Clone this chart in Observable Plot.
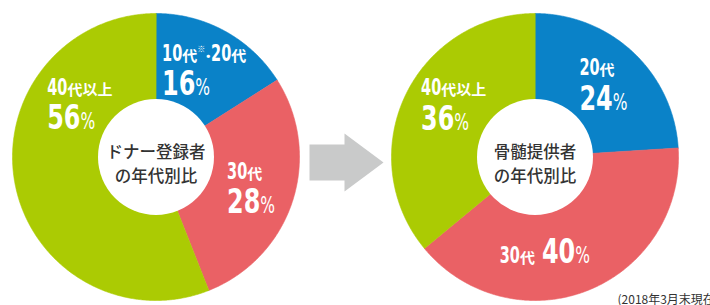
<!DOCTYPE html>
<html><head><meta charset="utf-8">
<script src="https://cdn.jsdelivr.net/npm/d3@7"></script>
<script src="https://cdn.jsdelivr.net/npm/@observablehq/plot@0.6"></script>
<style>html,body{margin:0;padding:0;background:#fff;} #chart svg{display:block}</style>
</head><body><div id="chart"></div>
<script>
// ---- data ----
const donorCategories = ["10代※・20代", "30代", "40代以上"];
const donorValues = [16, 28, 56];
const providerCategories = ["20代", "30代", "40代以上"];
const providerValues = [24, 40, 36];
const groupKeys = ["young", "thirties", "forties"];
const groupColors = ["#0a82c8", "#ea6165", "#abcb03"];
const centerTitles = ["ドナー登録者\nの年代別比", "骨髄提供者\nの年代別比"];
const footnote = "(2018年3月末現在";

// ---- layout ----
const W = 710, H = 305;
const pies = [
  {cx: 155.5, cy: 156.5, r: 143.5, hole: 58, categories: donorCategories, values: donorValues, title: centerTitles[0],
   labels: [null, null, {angle: 305, radius: 93}]},
  {cx: 534.5, cy: 156.5, r: 143.5, hole: 58, categories: providerCategories, values: providerValues, title: centerTitles[1],
   labels: [null, {angle: 174, radius: 94, inline: true}, {angle: 303, radius: 97}]}
];
const arrowSpec = {x0: 309, x1: 383, y: 162, shaft: 36, head: 58, headLen: 39, color: "#c9caca"};

const NARROW = "'DejaVu Sans Condensed','Liberation Sans',sans-serif";
const CJK = "'Noto Sans CJK JP',sans-serif";
const S = {
  num:  {family: NARROW, weight: "bold", size: 34.5, sx: 0.77},
  pct:  {family: NARROW, weight: "normal", size: 23, sx: 0.75},
  lnum: {family: NARROW, weight: "bold", size: 23, sx: 0.7},
  cjk:  {family: CJK, weight: "bold", size: 15},
  note: {family: CJK, weight: "bold", size: 8, dy: -9},
  dot:  {family: CJK, weight: "bold", size: 13, squeeze: 0.45, anchor: "middle"}
};

const ctx = document.createElement("canvas").getContext("2d");
function measure(text, st) {
  ctx.font = `${st.weight} ${st.size}px ${st.family}`;
  return ctx.measureText(text).width * (st.squeeze ?? 1) * (st.sx ?? 1);
}
function styleOf(t) { return /^\d+$/.test(t) ? "lnum" : t === "※" ? "note" : t === "・" ? "dot" : "cjk"; }
function layoutLine(runs) {
  let x = 0;
  const out = runs.map(r => { const w = measure(r.text, S[r.style]); const o = {...r, dx: x, w}; x += w; return o; });
  return {runs: out, width: x};
}

// slice polygons
const slicePts = [];
const runs = [];
const centers = [];
pies.forEach((p, pi) => {
  const total = d3.sum(p.values);
  let a = 0;
  p.values.forEach((v, i) => {
    const a0 = a, a1 = a + v / total * 2 * Math.PI;
    a = a1;
    const id = `${pi}-${i}`;
    slicePts.push({id, key: groupKeys[i], x: p.cx, y: p.cy});
    const n = Math.max(2, Math.ceil((a1 - a0) / (Math.PI / 360)));
    for (let k = 0; k <= n; k++) {
      const t = a0 + (a1 - a0) * k / n;
      slicePts.push({id, key: groupKeys[i], x: p.cx + p.r * Math.sin(t), y: p.cy - p.r * Math.cos(t)});
    }
    // label
    const ov = p.labels[i];
    const ang = ov ? ov.angle * Math.PI / 180 : (a0 + a1) / 2;
    const rad = ov ? ov.radius : 100;
    const lx = p.cx + rad * Math.sin(ang), ly = p.cy - rad * Math.cos(ang);
    const l1 = layoutLine(p.categories[i].match(/\d+|※|・|[^\d※・]+/g).map(t => ({text: t, style: styleOf(t)})));
    const l2 = layoutLine([{text: String(v), style: "num"}, {text: "%", style: "pct"}]);
    const cap1 = S.lnum.size * 0.73, cap2 = S.num.size * 0.73, gap = 9;
    if (ov && ov.inline) {
      const width = l1.width + 7 + l2.width;
      const x0 = lx - width / 2, base = ly + cap2 / 2;
      l1.runs.forEach(r => runs.push({...r, x: x0 + r.dx, y: base}));
      l2.runs.forEach(r => runs.push({...r, x: x0 + l1.width + 7 + r.dx, y: base}));
    } else {
      const width = Math.max(l1.width, l2.width);
      const x0 = lx - width / 2, top = ly - (cap1 + gap + cap2) / 2;
      l1.runs.forEach(r => runs.push({...r, x: x0 + r.dx, y: top + cap1}));
      l2.runs.forEach(r => runs.push({...r, x: x0 + r.dx, y: top + cap1 + gap + cap2}));
    }
  });
  centers.push({x: p.cx, y: p.cy, hole: p.hole, title: p.title});
});
runs.forEach(r => { if (S[r.style].anchor === "middle") r.x += r.w / 2; });

// arrow polygon
const A = arrowSpec, hx = A.x1 - A.headLen;
const arrowPts = [
  [A.x0, A.y - A.shaft / 2], [hx, A.y - A.shaft / 2], [hx, A.y - A.head / 2], [A.x1, A.y],
  [hx, A.y + A.head / 2], [hx, A.y + A.shaft / 2], [A.x0, A.y + A.shaft / 2]
].map(([x, y]) => ({x, y}));

const textMarks = Object.entries(S).map(([name, st]) =>
  Plot.text(runs.filter(r => r.style === name), {
    x: "x", y: "y", text: "text", fill: "white", textAnchor: st.anchor ?? "start", lineAnchor: "bottom",
    fontFamily: st.family, fontWeight: st.weight, fontSize: st.size, dy: st.dy ?? 0,
    ariaDescription: `label-${name}`
  })
);

const chart = Plot.plot({
  width: W, height: H, margin: 0,
  x: {domain: [0, W], range: [0, W], axis: null},
  y: {domain: [0, H], range: [0, H], axis: null},
  color: {domain: groupKeys, range: groupColors},
  marks: [
    Plot.line(slicePts, {x: "x", y: "y", z: "id", fill: "key", stroke: "key", strokeWidth: 0.6, curve: "linear-closed"}),
    Plot.dot(centers, {x: "x", y: "y", r: 58, fill: "white", stroke: "none"}),
    Plot.text(centers, {x: "x", y: "y", text: "title", fill: "#333", fontFamily: CJK, fontWeight: 500, fontSize: 16.5, lineHeight: 1.45, dy: 5}),
    Plot.line(arrowPts, {x: "x", y: "y", fill: A.color, stroke: "none", curve: "linear-closed"}),
    ...textMarks,
    Plot.text([footnote], {x: 617, y: 303, text: d => d, fill: "#333", fontFamily: CJK, fontSize: 12, textAnchor: "start", lineAnchor: "bottom"})
  ]
});
// horizontal condensing of the digit runs (styling only)
Object.entries(S).forEach(([name, st]) => {
  if (!st.sx) return;
  chart.querySelectorAll(`g[aria-description="label-${name}"] text`).forEach(t => {
    const tr = t.getAttribute("transform");
    if (tr) {
      t.setAttribute("transform", `${tr} scale(${st.sx},1)`);
    } else {
      const x = +t.getAttribute("x") || 0, y = +t.getAttribute("y") || 0;
      t.removeAttribute("x"); t.removeAttribute("y");
      t.setAttribute("transform", `translate(${x},${y}) scale(${st.sx},1)`);
    }
  });
});
document.getElementById("chart").appendChild(chart);
</script>
</body></html>
